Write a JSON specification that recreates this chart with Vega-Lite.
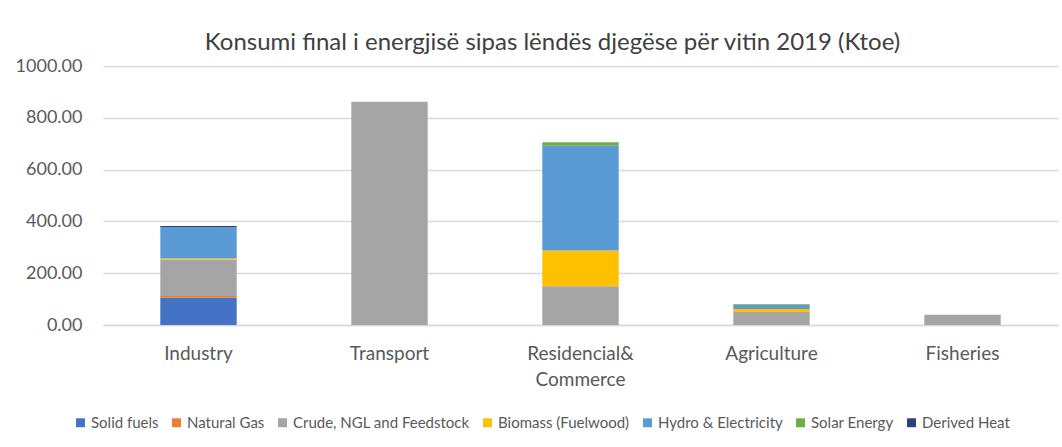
{
  "$schema": "https://vega.github.io/schema/vega-lite/v6.json",
  "autosize": "none",
  "width": 955,
  "height": 259,
  "padding": {"left": 103, "top": 66, "right": 4, "bottom": 122},
  "background": "white",
  "title": {
    "text": "Konsumi final i energjisë sipas lëndës djegëse për vitin 2019 (Ktoe)",
    "font": "Lato",
    "fontSize": 24,
    "fontWeight": "normal",
    "color": "#404040",
    "anchor": "middle",
    "dx": -28,
    "offset": 2
  },
  "data": {
    "values": [
      {"sector": "Industry", "fuel": "Solid fuels", "k": 1, "ktoe": 105},
      {"sector": "Industry", "fuel": "Natural Gas", "k": 2, "ktoe": 7},
      {"sector": "Industry", "fuel": "Crude, NGL and Feedstock", "k": 3, "ktoe": 140},
      {"sector": "Industry", "fuel": "Biomass (Fuelwood)", "k": 4, "ktoe": 5},
      {"sector": "Industry", "fuel": "Hydro & Electricity", "k": 5, "ktoe": 120},
      {"sector": "Industry", "fuel": "Derived Heat", "k": 7, "ktoe": 5},
      {"sector": "Transport", "fuel": "Crude, NGL and Feedstock", "k": 3, "ktoe": 862},
      {"sector": "Residencial& Commerce", "fuel": "Crude, NGL and Feedstock", "k": 3, "ktoe": 150},
      {"sector": "Residencial& Commerce", "fuel": "Biomass (Fuelwood)", "k": 4, "ktoe": 138},
      {"sector": "Residencial& Commerce", "fuel": "Hydro & Electricity", "k": 5, "ktoe": 404},
      {"sector": "Residencial& Commerce", "fuel": "Solar Energy", "k": 6, "ktoe": 14},
      {"sector": "Agriculture", "fuel": "Crude, NGL and Feedstock", "k": 3, "ktoe": 50},
      {"sector": "Agriculture", "fuel": "Biomass (Fuelwood)", "k": 4, "ktoe": 12},
      {"sector": "Agriculture", "fuel": "Hydro & Electricity", "k": 5, "ktoe": 15},
      {"sector": "Agriculture", "fuel": "Solar Energy", "k": 6, "ktoe": 3},
      {"sector": "Fisheries", "fuel": "Crude, NGL and Feedstock", "k": 3, "ktoe": 40}
    ]
  },
  "mark": {"type": "bar"},
  "encoding": {
    "x": {
      "field": "sector",
      "type": "nominal",
      "sort": ["Industry", "Transport", "Residencial& Commerce", "Agriculture", "Fisheries"],
      "scale": {"paddingInner": 0.6, "paddingOuter": 0.3},
      "axis": {
        "title": null,
        "labelAngle": 0,
        "labelFont": "Lato",
        "labelFontSize": 19,
        "labelColor": "#595959",
        "labelPadding": 19,
        "labelLineHeight": 26,
        "ticks": false,
        "domain": true,
        "domainColor": "#D9D9D9",
        "domainWidth": 1.5,
        "labelExpr": "datum.label == 'Residencial& Commerce' ? ['Residencial&', 'Commerce'] : datum.label"
      }
    },
    "y": {
      "field": "ktoe",
      "type": "quantitative",
      "stack": "zero",
      "scale": {"domain": [0, 1000]},
      "axis": {
        "title": null,
        "values": [0, 200, 400, 600, 800, 1000],
        "format": ".2f",
        "labelFont": "Lato",
        "labelFontSize": 18,
        "labelColor": "#595959",
        "labelPadding": 21,
        "ticks": false,
        "domain": false,
        "gridColor": "#D9D9D9",
        "gridWidth": 1.5
      }
    },
    "color": {
      "field": "fuel",
      "type": "nominal",
      "scale": {
        "domain": ["Solid fuels", "Natural Gas", "Crude, NGL and Feedstock", "Biomass (Fuelwood)", "Hydro & Electricity", "Solar Energy", "Derived Heat"],
        "range": ["#4472C4", "#ED7D31", "#A5A5A5", "#FFC000", "#5B9BD5", "#70AD47", "#264478"]
      },
      "legend": {
        "title": null,
        "orient": "none",
        "legendX": -30,
        "legendY": 349,
        "direction": "horizontal",
        "symbolType": "square",
        "symbolSize": 80,
        "symbolStrokeWidth": 0,
        "labelFont": "Lato",
        "labelFontSize": 15,
        "labelLimit": 400,
        "labelColor": "#595959",
        "columnPadding": 10,
        "labelOffset": 3,
        "columns": 7
      }
    },
    "order": {"field": "k", "type": "quantitative"}
  },
  "config": {
    "view": {"stroke": null}
  }
}
